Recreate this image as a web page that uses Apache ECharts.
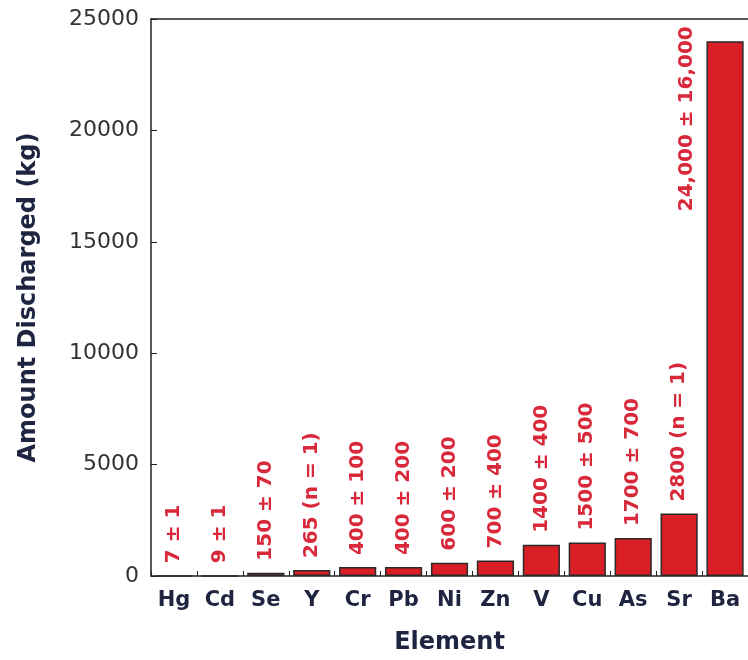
<!DOCTYPE html>
<html>
<head>
<meta charset="utf-8">
<script src="https://cdn.jsdelivr.net/npm/echarts@6/dist/echarts.min.js"></script>
<style>
  html, body { margin: 0; padding: 0; background: #fff; }
  #chart { width: 748px; height: 660px; }
</style>
</head>
<body>
<div id="chart"></div>
<script>
var elements = ['Hg', 'Cd', 'Se', 'Y', 'Cr', 'Pb', 'Ni', 'Zn', 'V', 'Cu', 'As', 'Sr', 'Ba'];
var discharged = [7, 9, 150, 265, 400, 400, 600, 700, 1400, 1500, 1700, 2800, 24000];
var valueText = ['7 ± 1', '9 ± 1', '150 ± 70', '265 (n = 1)', '400 ± 100', '400 ± 200',
  '600 ± 200', '700 ± 400', '1400 ± 400', '1500 ± 500', '1700 ± 700', '2800 (n = 1)',
  '24,000 ± 16,000'];

var myChart = echarts.init(document.getElementById('chart'));

var barData = discharged.map(function (v, i) {
  var item = { value: v, label: { formatter: valueText[i] } };
  if (elements[i] == 'Ba') {
    // too tall, label sits left of the bar
    item.label.position = [-20, 170];
  }
  return item;
});

var option = {
  animation: false,
  textStyle: { fontFamily: 'DejaVu Sans' },
  grid: { left: 151, right: -3, top: 19, bottom: 84 },
  xAxis: [
    {
      type: 'category',
      data: elements,
      name: 'Element',
      nameLocation: 'middle',
      nameGap: 55,
      nameTextStyle: { fontSize: 24, fontWeight: 'bold', color: '#1f2540' },
      axisLine: { lineStyle: { color: '#222', width: 1.5 } },
      axisTick: { show: true, inside: true, length: 5, lineStyle: { color: '#222' } },
      axisLabel: { fontSize: 21, fontWeight: 'bold', color: '#1f2540', margin: 14 }
    },
    {
      type: 'category',
      position: 'top',
      data: elements,
      axisLine: { show: true, lineStyle: { color: '#222', width: 1.5 } },
      axisTick: { show: false },
      axisLabel: { show: false }
    }
  ],
  yAxis: {
    type: 'value',
    min: 0,
    max: 25000,
    interval: 5000,
    name: 'Amount Discharged (kg)',
    nameLocation: 'middle',
    nameGap: 110,
    nameTextStyle: { fontSize: 24, fontWeight: 'bold', color: '#1f2540' },
    axisLine: { show: true, lineStyle: { color: '#222', width: 1.5 } },
    axisTick: { show: true, inside: true, length: 6, lineStyle: { color: '#222' } },
    axisLabel: { fontSize: 22, color: '#333', margin: 12, formatter: function (v) { return String(v); } },
    splitLine: { show: false }
  },
  series: [
    {
      type: 'bar',
      data: barData,
      barWidth: '81%',
      itemStyle: { color: '#d91e26', borderColor: '#2a2a2a', borderWidth: 1.5 },
      label: {
        show: true,
        position: 'top',
        rotate: 90,
        align: 'left',
        verticalAlign: 'middle',
        distance: 12,
        fontSize: 20,
        fontWeight: 'bold',
        color: '#d8283a'
      }
    }
  ]
};

myChart.setOption(option);
</script>
</body>
</html>
